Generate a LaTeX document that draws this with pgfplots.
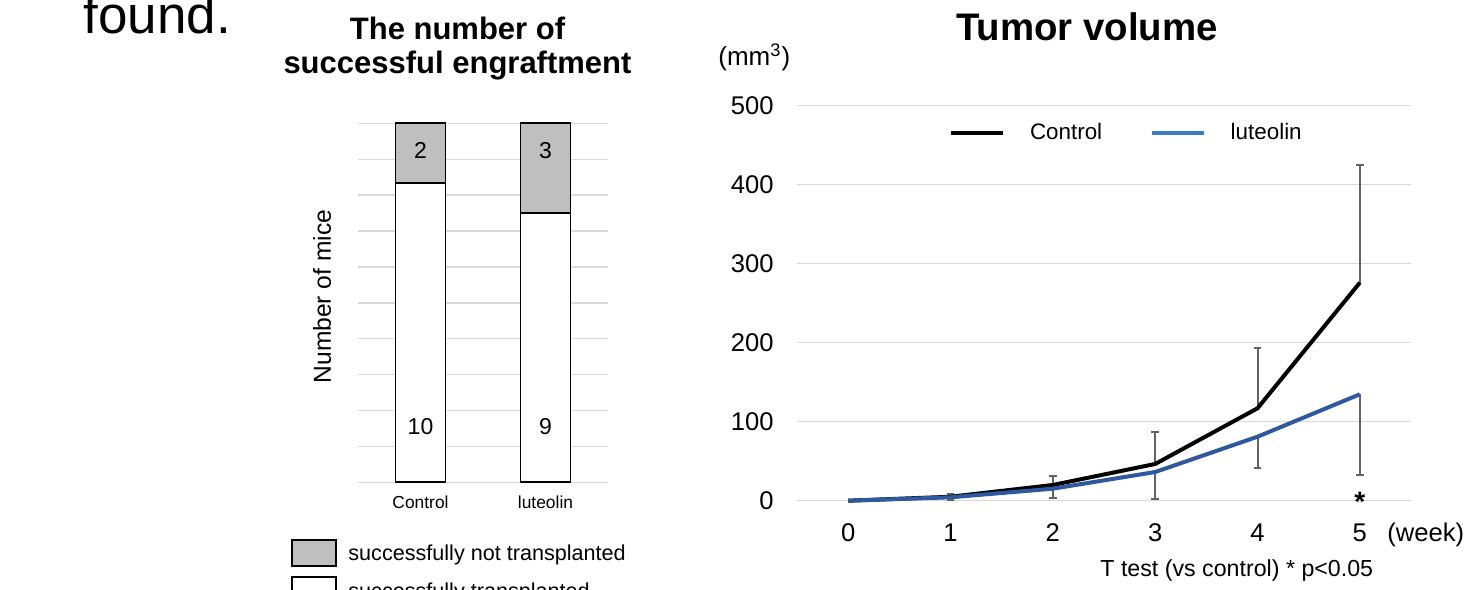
\documentclass[border=0pt]{standalone}
\usepackage{pgfplots}
\pgfplotsset{compat=1.18}
\usepackage{fontspec}
\setmainfont{Liberation Sans}

\definecolor{gridgray}{HTML}{D9D9D9}
\definecolor{bargray}{HTML}{BFBFBF}
\definecolor{lineblue}{HTML}{2E58A0}
\definecolor{legendblue}{HTML}{3B7BC4}
\definecolor{errgray}{HTML}{636363}

\begin{document}
\begin{tikzpicture}
\path[use as bounding box, clip] (0,0) rectangle (735bp,-295bp);

% tail of the sentence above the figure
\node[anchor=base west, inner sep=0pt, font=\fontsize{26.5bp}{30bp}\selectfont] at (41.5bp,-16.5bp) {found.};

% ---------- left panel: engraftment counts ----------
\node[anchor=base, inner sep=0pt, font=\fontsize{15.5bp}{18bp}\selectfont\bfseries] at (228.75bp,-19.5bp) {The number of};
\node[anchor=base, inner sep=0pt, font=\fontsize{15.5bp}{18bp}\selectfont\bfseries] at (228.75bp,-36.5bp) {successful engraftment};
\node[rotate=90, inner sep=0pt, font=\fontsize{12.3bp}{14bp}\selectfont] at (161bp,-148.25bp) {Number of mice};

\begin{axis}[
  at={(179bp,-241.15bp)}, anchor=south west,
  scale only axis, width=125bp, height=179.5bp,
  xmin=-0.5, xmax=1.5, ymin=0, ymax=12,
  ybar stacked, bar width=25bp,
  ytick={0,1.2,2.4,3.6,4.8,6,7.2,8.4,9.6,10.8,12}, yticklabels={},
  ymajorgrids, grid style={gridgray, line width=0.7bp},
  axis line style={draw=none}, major tick length=0pt,
  xtick={0,1}, xticklabels={Control,luteolin},
  xticklabel style={font=\fontsize{8.7bp}{10bp}\selectfont, anchor=north, inner sep=0pt, yshift=-6.35bp},
  clip=false,
]
\addplot[fill=white, draw=black, line width=0.9bp] coordinates {(0,10) (1,9)};
\addplot[fill=bargray, draw=black, line width=0.9bp] coordinates {(0,2) (1,3)};
% anchor points for the segment counts
\coordinate (ctrlW) at (axis cs:0,1.86);
\coordinate (luteW) at (axis cs:1,1.86);
\coordinate (ctrlG) at (axis cs:0,11.1);
\coordinate (luteG) at (axis cs:1,11.08);
\end{axis}
\node[inner sep=0pt, font=\fontsize{11.5bp}{13bp}\selectfont] at (ctrlW) {10};
\node[inner sep=0pt, font=\fontsize{11.5bp}{13bp}\selectfont] at (luteW) {9};
\node[inner sep=0pt, font=\fontsize{11.5bp}{13bp}\selectfont] at (ctrlG) {2};
\node[inner sep=0pt, font=\fontsize{11.5bp}{13bp}\selectfont] at (luteG) {3};

% legend of the left panel
\draw[black, line width=1bp, fill=bargray] (145.85bp,-270bp) rectangle (167.85bp,-282.85bp);
\node[anchor=base west, inner sep=0pt, font=\fontsize{10.8bp}{12bp}\selectfont] at (174bp,-280bp) {successfully not transplanted};
\draw[black, line width=1bp, fill=white] (145.85bp,-288.65bp) rectangle (167.85bp,-301.5bp);
\node[anchor=base west, inner sep=0pt, font=\fontsize{10.8bp}{12bp}\selectfont] at (174bp,-299bp) {successfully transplanted};

% ---------- right panel: tumor volume ----------
\node[anchor=base, inner sep=0pt, font=\fontsize{19.2bp}{22bp}\selectfont\bfseries] at (543.5bp,-20bp) {Tumor volume};
\node[anchor=base west, inner sep=0pt, font=\fontsize{13bp}{15bp}\selectfont] at (359bp,-32.5bp) {(mm\textsuperscript{3})};

\begin{axis}[
  at={(398.5bp,-250.35bp)}, anchor=south west,
  scale only axis, width=307bp, height=197.5bp,
  xmin=-0.5, xmax=5.5, ymin=0, ymax=500,
  xtick={0,1,2,3,4,5}, ytick={0,100,200,300,400,500},
  ymajorgrids, grid style={gridgray, line width=0.7bp},
  axis line style={draw=none}, major tick length=0pt,
  /pgf/number format/assume math mode=true,
  tick label style={font=\fontsize{12.8bp}{15bp}\selectfont},
  yticklabel style={anchor=east, inner sep=0pt, xshift=-11.5bp},
  xticklabel style={anchor=north, inner sep=0pt, yshift=-11.15bp},
  clip=false,
  legend columns=2,
  legend style={at={(0.2484,0.931)}, anchor=west, draw=none, fill=none,
    inner sep=0pt, outer sep=0pt, nodes={inner sep=0pt},
    font=\fontsize{11.2bp}{13bp}\selectfont,
    /tikz/every odd column/.append style={column sep=12.5bp},
    /tikz/every even column/.append style={column sep=24bp}},
  legend image code/.code={\draw[#1] (0bp,0bp) -- (26bp,0bp);},
  error bars/error bar style={errgray, line width=1bp},
  error bars/error mark options={errgray, line width=1bp, mark size=1.9bp, rotate=90},
]
\addlegendimage{black, line width=1.75bp}
\addlegendentry{Control}
\addlegendimage{legendblue, line width=1.75bp}
\addlegendentry{luteolin}

% SD whiskers (drawn first; their thin carrier path lies under the mean curves)
\addplot[errgray, line width=0.5bp, forget plot,
  error bars/.cd, y dir=plus, y explicit]
  coordinates {(1,5) +- (0,3.1) (2,19.9) +- (0,11.7) (3,46.5) +- (0,40.5)
               (4,117) +- (0,76.7) (5,276) +- (0,148.5)};
\addplot[errgray, line width=0.5bp, forget plot,
  error bars/.cd, y dir=minus, y explicit]
  coordinates {(1,4.3) +- (0,3) (2,15.2) +- (0,11.8) (3,36.3) +- (0,34.5)
               (4,81) +- (0,40) (5,134.7) +- (0,102.2)};

% mean tumour volume
\addplot[black, line width=2bp, line join=round, forget plot]
  coordinates {(0,0) (1,5) (2,19.9) (3,46.5) (4,117) (5,276)};
\addplot[lineblue, line width=2bp, line join=round, forget plot]
  coordinates {(0,0) (1,4.3) (2,15.2) (3,36.3) (4,81) (5,134.7)};

\node[anchor=base, inner sep=0pt, font=\fontsize{14bp}{16bp}\selectfont\bfseries] at (axis cs:5,0) [yshift=-5.6bp] {*};
\end{axis}

\node[anchor=base west, inner sep=0pt, font=\fontsize{12.8bp}{15bp}\selectfont] at (693.5bp,-270.75bp) {(week)};
\node[anchor=base west, inner sep=0pt, font=\fontsize{11.6bp}{13bp}\selectfont] at (550bp,-288bp) {T test (vs control) * p<0.05};
\end{tikzpicture}
\end{document}
